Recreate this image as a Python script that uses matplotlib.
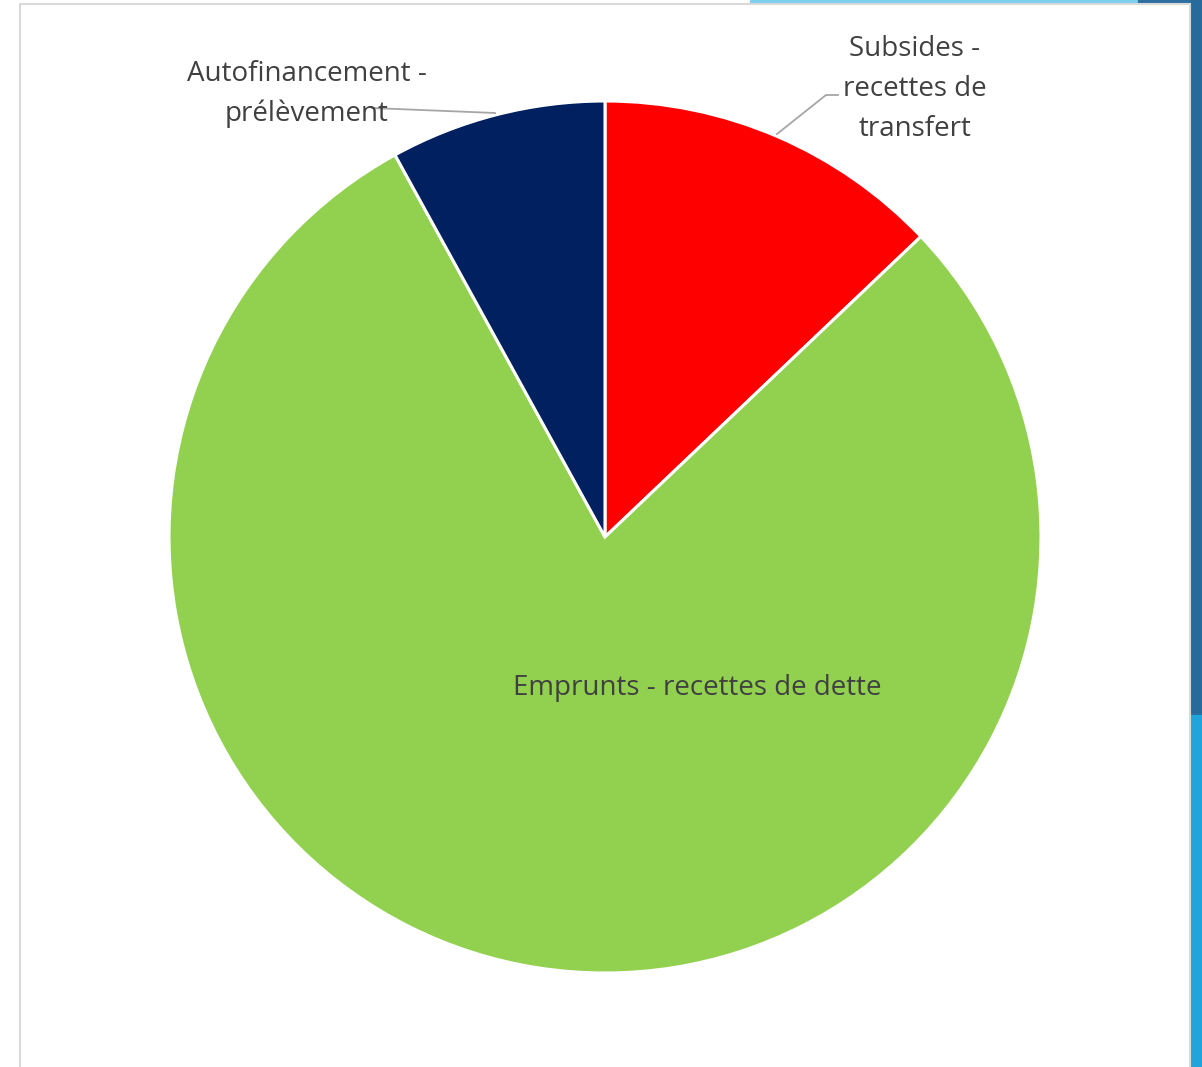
"""Pie chart: sources de financement des investissements."""

import matplotlib

matplotlib.use("Agg")

import matplotlib.pyplot as plt
from matplotlib.patches import Rectangle

labels = [
    "Subsides -\nrecettes de\ntransfert",
    "Emprunts - recettes de dette",
    "Autofinancement -\nprélèvement",
]
shares = [12.9, 79.1, 8.0]
colors = ["#ff0000", "#92d050", "#002060"]

W, H = 1202, 1067
fig = plt.figure(figsize=(W / 100, H / 100), dpi=100)
fig.patch.set_facecolor("white")

# slide decorations around the chart frame (drawn below the axes)
deco = [
    ((750, 0), 390, 4, "#7ccfee"),
    ((1138, 0), 64, 4, "#2e6fa0"),
    ((1191, 0), 11, 715, "#276a9c"),
    ((1191, 715), 11, 352, "#1fa5dc"),
]
for (px, py), w, h, c in deco:
    fig.add_artist(Rectangle((px / W, 1 - (py + h) / H), w / W, h / H,
                             transform=fig.transFigure, color=c, zorder=-3))
fig.add_artist(Rectangle((20 / W, -0.01), 1170 / W, 1 - 4 / H + 0.01, transform=fig.transFigure,
                         facecolor="white", edgecolor="#d9d9d9", linewidth=1.5, zorder=-2))

cx, cy, r = 605, 537, 436
ax = fig.add_axes([(cx - r) / W, (H - cy - r) / H, 2 * r / W, 2 * r / H])
ax.set_zorder(1)
ax.patch.set_visible(False)

ax.pie(
    shares,
    colors=colors,
    startangle=90,
    counterclock=False,
    radius=1.0,
    wedgeprops={"edgecolor": "white", "linewidth": 2.2},
)
ax.set_xlim(-1, 1)
ax.set_ylim(-1, 1)
ax.axis("off")


def to_data(px, py):
    return (px - cx) / r, (cy - py) / r


text_kw = dict(fontsize=20, color="#404040", ha="center", va="center",
               family=["Open Sans", "DejaVu Sans"], linespacing=1.58)

ax.text(*to_data(915, 89), labels[0], **text_kw)
ax.text(*to_data(697, 688), labels[1], **text_kw)
ax.text(*to_data(307, 94), labels[2], **text_kw)

line_kw = dict(color="#a6a6a6", linewidth=1.3, clip_on=False)
x0, y0 = to_data(777, 134)
x1, y1 = to_data(826, 95)
x2, y2 = to_data(838, 95)
ax.plot([x0, x1, x2], [y0, y1, y2], **line_kw)
x0, y0 = to_data(495, 113)
x1, y1 = to_data(372, 108)
ax.plot([x0, x1], [y0, y1], **line_kw)

fig.savefig("out.png", dpi=100)
